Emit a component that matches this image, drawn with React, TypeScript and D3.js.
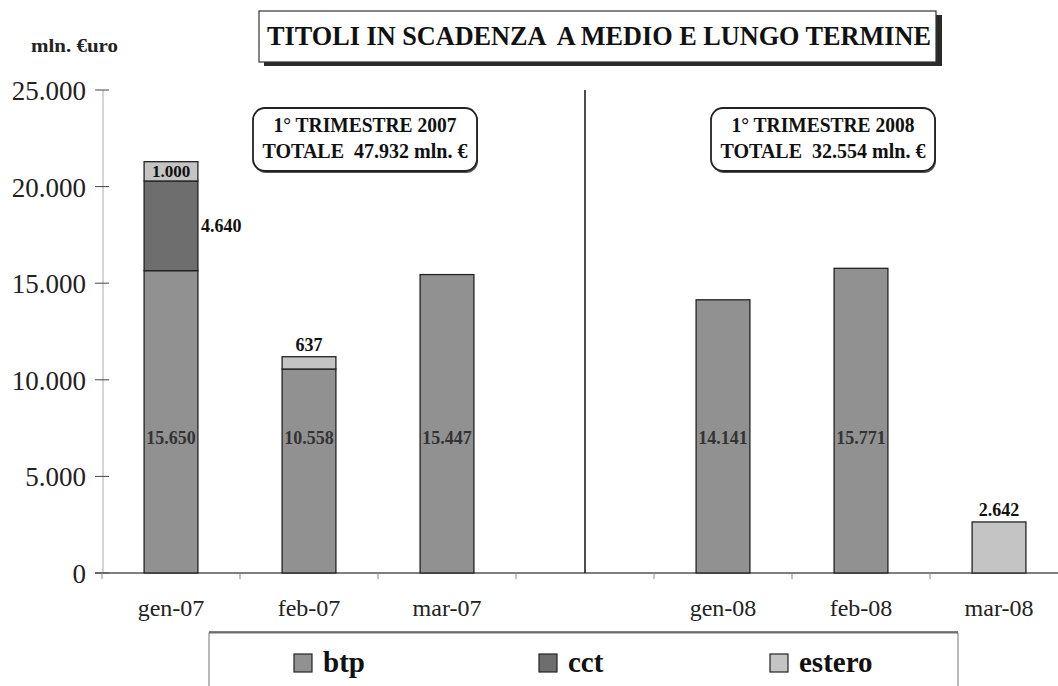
import React from 'react';
import * as d3 from 'd3';

// months on the x axis; the blank slot separates the two quarters
const months = ['gen-07', 'feb-07', 'mar-07', ' ', 'gen-08', 'feb-08', 'mar-08'];
const btp = [15650, 10558, 15447, 0, 14141, 15771, 0];
const cct = [4640, 0, 0, 0, 0, 0, 0];
const estero = [1000, 637, 0, 0, 0, 0, 2642];
const yTicks = [0, 5000, 10000, 15000, 20000, 25000];
const seriesNames = ['btp', 'cct', 'estero'];
const quarterTitles = ['1° TRIMESTRE 2007', '1° TRIMESTRE 2008'];
const quarterTotals = ['TOTALE  47.932 mln. €', 'TOTALE  32.554 mln. €'];

const W = 1058;
const H = 686;
const colors: Record<string, string> = { btp: '#919191', cct: '#6e6e6e', estero: '#c4c4c4' };
const serif = '"Liberation Serif", "DejaVu Serif", serif';
const pre = { whiteSpace: 'pre' as const };
// btp labels sit on a common level, like in the original
const btpLabelLevel = 7000;

const fmt = (v: number) => d3.format(',')(v).replace(/,/g, '.');

const App = () => {
  const x = d3.scaleBand<string>()
    .domain(months)
    .range([102, 1068])
    .paddingInner(0.61)
    .paddingOuter(0.305);
  const slot = d3.scaleBand<string>().domain(months).range([102, 1068]);
  const y = d3.scaleLinear().domain([0, 25000]).range([573, 90]);

  const rows = months.map((m, i) => ({ month: m, btp: btp[i], cct: cct[i], estero: estero[i] }));
  const stacked = d3.stack<any>().keys(seriesNames)(rows);

  const bw = x.bandwidth();
  const divX = (slot(' ') as number) + slot.bandwidth() / 2;

  return (
    <svg width={W} height={H} style={{ display: 'block', position: 'absolute', left: 0, top: 0 }}
      fontFamily={serif}>
      <rect width={W} height={H} fill="#fff" />

      {/* title */}
      <rect x={264} y={15} width={678} height={51} fill="#2a2a2a" />
      <rect x={259} y={11} width={677} height={51} fill="#fff" stroke="#333" strokeWidth={1.2} />
      <text x={599} y={45} textAnchor="middle" fontSize={28} fontWeight="bold" fill="#111"
        textLength={664} lengthAdjust="spacingAndGlyphs" style={pre}>
        TITOLI IN SCADENZA  A MEDIO E LUNGO TERMINE
      </text>
      <text x={31} y={52} fontSize={18} fontWeight="bold" fill="#222"
        textLength={87} lengthAdjust="spacingAndGlyphs">mln. €uro</text>

      {/* y axis */}
      <line x1={103} x2={103} y1={y(25000)} y2={y(0)} stroke="#aaa" strokeWidth={1} />
      {yTicks.map(t => (
        <g key={t}>
          <line x1={95} x2={109} y1={y(t)} y2={y(t)} stroke="#444" strokeWidth={1} />
          <text x={86} y={y(t) + 10} textAnchor="end" fontSize={27} fill="#222">{fmt(t)}</text>
        </g>
      ))}

      {/* x axis */}
      <line x1={95} x2={W} y1={y(0)} y2={y(0)} stroke="#555" strokeWidth={1.5} />
      {months.map(m => (
        <g key={m}>
          <line x1={slot(m)} x2={slot(m)} y1={y(0)} y2={y(0) + 6} stroke="#888" />
          <text x={(slot(m) as number) + slot.bandwidth() / 2} y={616} textAnchor="middle"
            fontSize={24} fill="#222">{m.trim()}</text>
        </g>
      ))}

      {/* divider between the quarters */}
      <line x1={divX} x2={divX} y1={y(25000)} y2={y(0)} stroke="#111" strokeWidth={1.5} />

      {/* bars */}
      {stacked.map(s => s.map((d, i) => {
        const v = d[1] - d[0];
        if (v <= 0) return null;
        return (
          <rect key={s.key + i} x={x(months[i])} y={y(d[1])} width={bw} height={y(d[0]) - y(d[1])}
            fill={colors[s.key]} stroke="#222" strokeWidth={1.3} />
        );
      }))}

      {/* value labels */}
      {stacked.map(s => s.map((d, i) => {
        const v = d[1] - d[0];
        if (v <= 0) return null;
        const cx = (x(months[i]) as number) + bw / 2;
        const top = y(d[1]);
        const h = y(d[0]) - top;
        if (s.key === 'btp') {
          return <text key={'l' + s.key + i} x={cx} y={y(btpLabelLevel) + 6} textAnchor="middle" fontSize={18}
            fontWeight="bold" fill="#333">{fmt(v)}</text>;
        }
        if (s.key === 'cct') {
          return <text key={'l' + s.key + i} x={cx + bw / 2 + 3} y={top + h / 2 + 6} fontSize={18}
            fontWeight="bold" fill="#111">{fmt(v)}</text>;
        }
        const inside = h >= 18 && d[0] > 0;
        return <text key={'l' + s.key + i} x={cx} y={inside ? top + h / 2 + 6 : top - 6} textAnchor="middle"
          fontSize={inside ? 17 : 18} fontWeight="bold" fill="#111">{fmt(v)}</text>;
      }))}

      {/* quarter boxes */}
      {quarterTitles.map((q, i) => {
        const bx = i === 0 ? 253 : 711;
        return (
          <g key={q}>
            <rect x={bx + 1} y={109} width={224} height={64} rx={12} fill="#555" />
            <rect x={bx} y={108} width={224} height={63} rx={12} fill="#fff" stroke="#222" strokeWidth={1.8} />
            <text x={bx + 112} y={132} textAnchor="middle" fontSize={20} fontWeight="bold" fill="#111"
              textLength={183} lengthAdjust="spacingAndGlyphs">{q}</text>
            <text x={bx + 112} y={158} textAnchor="middle" fontSize={20} fontWeight="bold" fill="#111"
              textLength={205} lengthAdjust="spacingAndGlyphs" style={pre}>{quarterTotals[i]}</text>
          </g>
        );
      })}

      {/* legend */}
      <rect x={209} y={633} width={749} height={70} fill="#fff" stroke="#777" strokeWidth={1} />
      <line x1={209} x2={958} y1={632} y2={632} stroke="#555" strokeWidth={1.5} />
      {seriesNames.map((n, i) => {
        const lx = [294, 539, 770][i];
        return (
          <g key={n}>
            <rect x={lx} y={654} width={18} height={18} fill={colors[n]} stroke="#222" strokeWidth={1.2} />
            <text x={lx + 29} y={672} fontSize={29} fontWeight="bold" fill="#111">{n}</text>
          </g>
        );
      })}
    </svg>
  );
};

export default App;
